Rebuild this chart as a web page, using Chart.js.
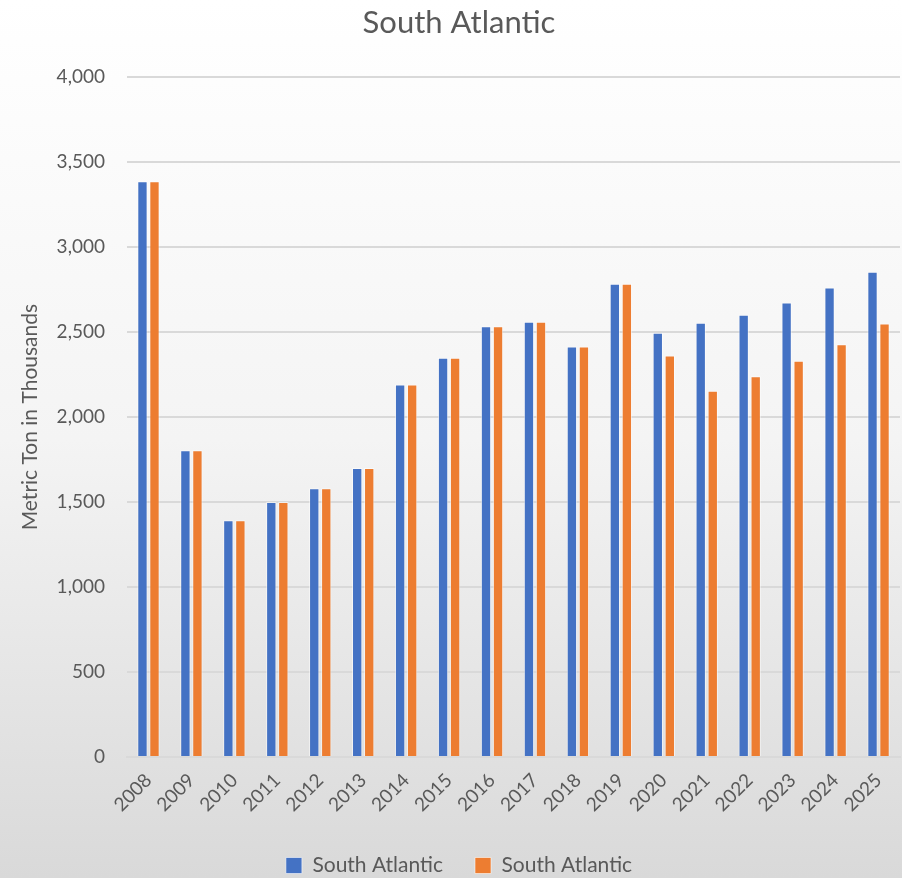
<!DOCTYPE html>
<html>
<head>
<meta charset="utf-8">
<script src="https://cdn.jsdelivr.net/npm/chart.js@4"></script>
<style>
html,body{margin:0;padding:0;background:#fff;overflow:hidden;}
#wrap{width:902px;height:878px;position:relative;overflow:hidden;background:linear-gradient(to bottom,#ffffff 0%,#f4f4f4 50%,#d9d9d9 100%);}
canvas{display:block;}
</style>
</head>
<body>
<div id="wrap"><canvas id="c" width="902" height="886"></canvas></div>
<script>
const categories = ["2008","2009","2010","2011","2012","2013","2014","2015","2016","2017","2018","2019","2020","2021","2022","2023","2024","2025"];
const seriesBlue = [3388,1805,1393,1500,1582,1700,2192,2349,2535,2561,2416,2785,2496,2555,2602,2675,2763,2855];
const seriesOrange = [3388,1805,1393,1500,1582,1700,2192,2349,2535,2561,2416,2785,2363,2155,2241,2332,2429,2551];
const seriesNames = ["South Atlantic","South Atlantic"];
const chartTitle = "South Atlantic";
const yTitle = "Metric Ton in Thousands";

const FONT = "Lato, 'Open Sans', sans-serif";
const TXT = "#595959";

new Chart(document.getElementById('c'), {
  type: 'bar',
  data: {
    labels: categories,
    datasets: [
      {label: seriesNames[0], data: seriesBlue, backgroundColor: '#4472C4', borderColor: 'rgba(255,255,255,0.55)', borderWidth: 1, categoryPercentage: 0.56, barPercentage: 0.86},
      {label: seriesNames[1], data: seriesOrange, backgroundColor: '#ED7D31', borderColor: 'rgba(255,255,255,0.55)', borderWidth: 1, categoryPercentage: 0.56, barPercentage: 0.86}
    ]
  },
  options: {
    responsive: false,
    animation: false,
    layout: {padding: {left: 18, right: 2, top: 4, bottom: 0}},
    plugins: {
      title: {display: true, text: chartTitle, color: TXT, font: {family: FONT, size: 31, weight: 'normal'}, padding: {top: 0, bottom: 36}},
      legend: {
        position: 'bottom',
        labels: {color: TXT, font: {family: FONT, size: 21}, boxWidth: 16, boxHeight: 16, padding: 32, useBorderRadius: false},
        onClick: null
      },
      tooltip: {enabled: false}
    },
    scales: {
      x: {
        grid: {display: false},
        border: {color: '#d9d9d9', width: 2},
        ticks: {color: TXT, font: {family: FONT, size: 19}, maxRotation: 45, minRotation: 45, padding: 4},
        afterFit: (s) => { s.height = 66; }
      },
      y: {
        min: 0, max: 4000,
        ticks: {stepSize: 500, color: TXT, font: {family: FONT, size: 19}, padding: 22,
          callback: (v) => v.toLocaleString('en-US')},
        grid: {color: '#d9d9d9', lineWidth: 2, drawTicks: false},
        border: {display: false},
        title: {display: true, text: yTitle, color: TXT, font: {family: FONT, size: 21}, padding: {top: 0, bottom: 2}},
        afterFit: (s) => { s.width = 109; }
      }
    }
  }
});
</script>
</body>
</html>
